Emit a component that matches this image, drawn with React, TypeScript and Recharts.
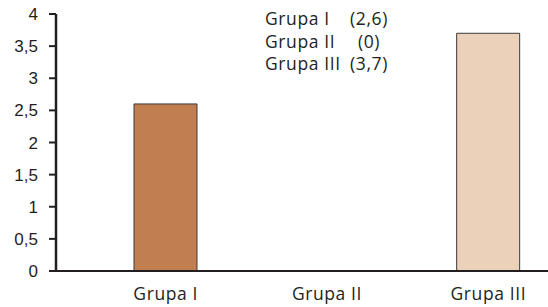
import { Bar, BarChart, Cell, XAxis, YAxis } from "recharts";

const CATEGORIES = ["Grupa I", "Grupa II", "Grupa III"];
const VALUES = [2.6, 0, 3.7];
const BAR_COLORS = ["#c17f51", "#c17f51", "#ebd0ba"];
const Y_TICKS = [0, 0.5, 1, 1.5, 2, 2.5, 3, 3.5, 4];

const data = CATEGORIES.map((name, i) => ({ name, value: VALUES[i] }));

const fmt = (v: number) => String(v).replace(".", ",");

const LABEL_FONT = "'Open Sans', 'Noto Sans', sans-serif";

export default function App() {
  return (
    <div
      style={{
        position: "absolute",
        top: 0,
        left: 0,
        width: 548,
        height: 307,
        overflow: "hidden",
        background: "#fff",
      }}
    >
      <BarChart
        width={569}
        height={307}
        data={data}
        margin={{ top: 14, right: 0, bottom: 6, left: 0 }}
      >
        <XAxis
          dataKey="name"
          axisLine={{ stroke: "#231f20", strokeWidth: 2 }}
          tickLine={false}
          tickSize={0}
          tickMargin={17}
          height={30}
          padding={{ left: 29, right: 0 }}
          tick={{ fill: "#231f20", fontSize: 17.5, fontFamily: LABEL_FONT, letterSpacing: 0.6 }}
        />
        <YAxis
          domain={[0, 4]}
          ticks={Y_TICKS}
          width={56}
          interval={0}
          tickFormatter={fmt}
          axisLine={{ stroke: "#231f20", strokeWidth: 2.5 }}
          tickLine={{ stroke: "#231f20", strokeWidth: 2 }}
          tickSize={7}
          tickMargin={11}
          tick={{ fill: "#231f20", fontSize: 17, fontFamily: "'Liberation Sans', Arial, sans-serif" }}
        />
        <Bar dataKey="value" barSize={63} stroke="#3a3a3a" strokeWidth={1} isAnimationActive={false}>
          {data.map((d, i) => (
            <Cell key={d.name} fill={BAR_COLORS[i]} />
          ))}
        </Bar>
      </BarChart>
      <div
        style={{
          position: "absolute",
          left: 265,
          top: 7,
          fontFamily: LABEL_FONT,
          fontSize: 17.5,
          letterSpacing: 0.6,
          lineHeight: "22.5px",
          color: "#231f20",
        }}
      >
        {data.map((d) => (
          <div key={d.name} style={{ position: "relative", height: 22.5, width: 150 }}>
            <span>{d.name}</span>
            <span
              style={{
                position: "absolute",
                left: 104,
                transform: "translateX(-50%)",
                whiteSpace: "nowrap",
              }}
            >
              ({fmt(d.value)})
            </span>
          </div>
        ))}
      </div>
    </div>
  );
}
